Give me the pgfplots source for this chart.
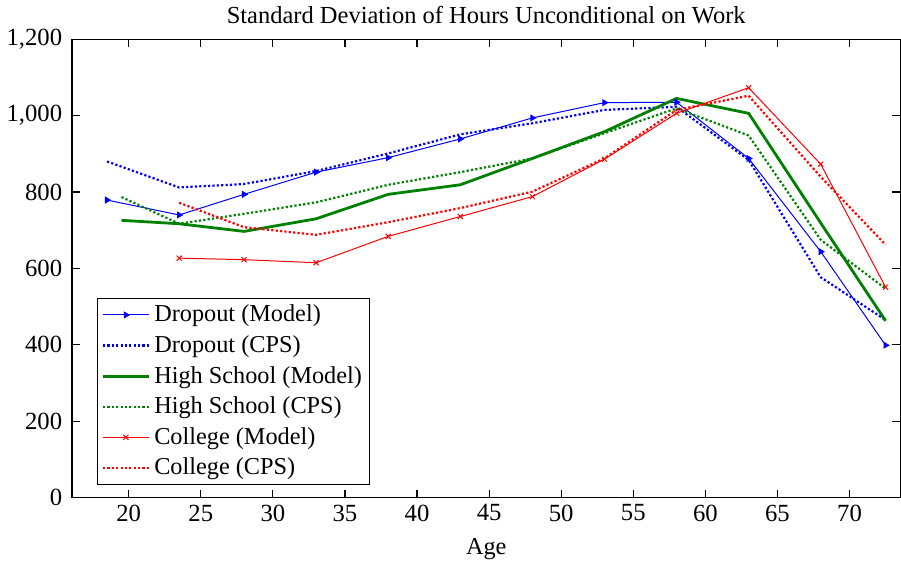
\documentclass[border=0pt]{standalone}
\usepackage{fontspec}
\setmainfont{Liberation Serif}
\usepackage{pgfplots}
\pgfplotsset{compat=1.18}
\definecolor{mblue}{RGB}{0,0,255}
\definecolor{mgreen}{RGB}{0,128,0}
\definecolor{mred}{RGB}{255,0,0}
\begin{document}
\begin{tikzpicture}
\begin{axis}[
  scale only axis,
  width=414.5bp, height=229.5bp,
  xmin=16.08, xmax=73.52, ymin=0, ymax=1200,
  xtick={20,25,...,70},
  ytick={0,200,...,1200},
  tick align=inside,
  major tick length=4bp,
  axis line style={line width=0.7bp},
  every tick/.style={black, line width=0.6bp},
  /pgf/number format/assume math mode=true,
  /pgf/number format/1000 sep={,},
  scaled y ticks=false,
  tick label style={font=\fontsize{12.4}{14}\selectfont},
  yticklabel style={xshift=-1.5bp},
  label style={font=\fontsize{12.2}{14}\selectfont},
  title style={font=\fontsize{12.3}{14}\selectfont, yshift=-2bp},
  title={Standard Deviation of Hours Unconditional on Work},
  xlabel={Age},
  xlabel style={yshift=-1.5bp},
  legend cell align=left,
  legend style={at={(0.03,0.027)}, anchor=south west, draw=black, line width=0.5bp,
    font=\fontsize{12.2}{14}\selectfont, row sep=1.4bp, inner xsep=2bp, inner ysep=1.5bp},
  legend image code/.code={\draw[#1] (0bp,0bp) -- (23bp,0bp);
     \draw[#1, solid] plot coordinates {(11.5bp,0bp)};},
]
\addplot[color=mblue, line width=0.5bp, mark=triangle*, mark size=1.6bp, mark options={rotate=-90, solid}]
 coordinates {(18.5,779)(23.5,740)(28,794)(33,852)(38,890)(43,939)(48,994)(53,1034)(58,1035)(63,888)(68,644)(72.5,399)};
\addlegendentry{Dropout (Model)}
\addplot[color=mblue, line width=1.1bp, dash pattern=on 1.1bp off 1.1bp, mark=none]
 coordinates {(18.5,880)(23.5,812)(28,821)(33,855)(38,901)(43,951)(48,980)(53,1015)(58,1023)(63,884)(68,577)(72.5,465)};
\addlegendentry{Dropout (CPS)}
\addplot[color=mgreen, line width=1.4bp, mark=none]
 coordinates {(19.5,726)(23.5,717)(28,697)(33,730)(38,794)(43,819)(48,888)(53,958)(58,1045)(63,1006)(68,719)(72.5,463)};
\addlegendentry{High School (Model)}
\addplot[color=mgreen, line width=1.1bp, dash pattern=on 1.1bp off 1.1bp, mark=none]
 coordinates {(19.5,787)(23.5,717)(28,743)(33,773)(38,819)(43,852)(48,888)(53,954)(58,1019)(63,948)(68,675)(72.5,547)};
\addlegendentry{High School (CPS)}
\addplot[color=mred, line width=0.5bp, mark=x, mark size=1.8bp, mark options={solid}]
 coordinates {(23.5,627)(28,623)(33,615)(38,684)(43,736)(48,788)(53,886)(58,1006)(63,1073)(68,873)(72.5,551)};
\addlegendentry{College (Model)}
\addplot[color=mred, line width=1.1bp, dash pattern=on 1.1bp off 1.1bp, mark=none]
 coordinates {(23.5,772)(28,708)(33,688)(38,721)(43,758)(48,801)(53,888)(58,1015)(63,1052)(68,840)(72.5,662)};
\addlegendentry{College (CPS)}
\end{axis}
\end{tikzpicture}
\end{document}
